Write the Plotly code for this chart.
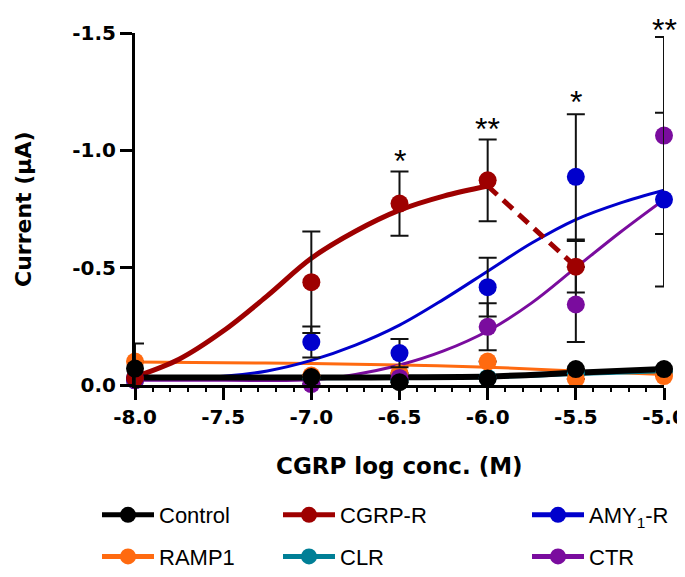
import plotly.graph_objects as go

# ---------------- data ----------------
conc = [-8.0, -7.0, -6.5, -6.0, -5.5, -5.0]

control_y   = [0.070, 0.034, 0.012, 0.028, 0.068, 0.068]
control_err = [0.107, 0.0, 0.0, 0.0, 0.0, 0.0]
ramp1_y     = [0.100, 0.040, 0.050, 0.100, 0.026, 0.038]
ramp1_err   = [0.0, 0.0, 0.0, 0.0, 0.0, 0.0]
clr_y       = [0.020, 0.030, 0.020, 0.030, 0.050, 0.055]
clr_err     = [0.0, 0.0, 0.0, 0.0, 0.0, 0.0]
cgrp_y      = [0.030, 0.438, 0.773, 0.872, 0.504]
cgrp_err    = [0.0, 0.216, 0.137, 0.174, 0.110]
amy_y       = [0.030, 0.183, 0.136, 0.417, 0.887, 0.790]
amy_err     = [0.0, 0.066, 0.060, 0.125, 0.267, 0.370]
ctr_y       = [0.020, 0.004, 0.030, 0.248, 0.343, 1.063]
ctr_err     = [0.0, 0.0, 0.0, 0.100, 0.160, 0.420]

# fitted curves
control_fit_x = [-8.0, -7.0, -6.5, -6.0, -5.5, -5.0]
control_fit_y = [0.032, 0.032, 0.033, 0.036, 0.052, 0.068]
ramp1_fit_x = [-8.0, -7.5, -7.0, -6.5, -6.0, -5.5, -5.0]
ramp1_fit_y = [0.098, 0.095, 0.092, 0.085, 0.076, 0.060, 0.045]
clr_fit_x = [-8.0, -7.0, -6.0, -5.5, -5.0]
clr_fit_y = [0.025, 0.027, 0.032, 0.045, 0.056]
cgrp_fit_x = [-8.0, -7.75, -7.5, -7.25, -7.0, -6.75, -6.5, -6.25, -6.0]
cgrp_fit_y = [0.035, 0.110, 0.230, 0.380, 0.540, 0.655, 0.745, 0.805, 0.848]
cgrp_dash_x = [-6.0, -5.5]
cgrp_dash_y = [0.848, 0.504]
amy_fit_x = [-8.0, -7.5, -7.25, -7.0, -6.75, -6.5, -6.25, -6.0, -5.75, -5.5, -5.25, -5.0]
amy_fit_y = [0.030, 0.037, 0.060, 0.105, 0.170, 0.255, 0.365, 0.485, 0.605, 0.705, 0.775, 0.830]
ctr_fit_x = [-8.0, -7.5, -7.0, -6.75, -6.5, -6.25, -6.0, -5.75, -5.5, -5.25, -5.0]
ctr_fit_y = [0.020, 0.020, 0.022, 0.045, 0.085, 0.145, 0.230, 0.350, 0.500, 0.650, 0.790]

# significance marks (height in µA of the top of each mark)
star_x = [-6.5, -6.0, -5.5, -5.0]
star_top = [1.04, 1.175, 1.29, 1.60]
star_text = ["*", "**", "*", "**"]

x_ticks = [-8.0, -7.5, -7.0, -6.5, -6.0, -5.5, -5.0]
x_ticktext = ["-8.0", "-7.5", "-7.0", "-6.5", "-6.0", "-5.5", "-5.0"]
y_ticks = [0.0, -0.5, -1.0, -1.5]
y_ticktext = ["0.0", "-0.5", "-1.0", "-1.5"]
y_range = [0.0, -1.5]

# ---------------- styles ----------------
C_CONTROL = "#000000"
C_CGRP = "#9E0000"
C_AMY = "#0000CC"
C_RAMP1 = "#FF6A10"
C_CLR = "#007F96"
C_CTR = "#7A0C9E"

BOLD = "DejaVu Sans"
REG = "Liberation Sans"

def neg(v):
    return [-a for a in v]

fig = go.Figure()

def fit_line(xs, ys, color, width, dash="solid", shape="spline"):
    fig.add_trace(go.Scatter(x=xs, y=neg(ys), mode="lines", showlegend=False,
                             line=dict(color=color, width=width, dash=dash, shape=shape),
                             hoverinfo="skip", cliponaxis=False))

def points(xs, ys, errs, color):
    fig.add_trace(go.Scatter(x=xs, y=neg(ys), mode="markers", showlegend=False,
                             marker=dict(color=color, size=18),
                             error_y=dict(type="data", array=errs, visible=True,
                                          color="#111111", thickness=2, width=9),
                             cliponaxis=False))

# lines
fit_line(ramp1_fit_x, ramp1_fit_y, C_RAMP1, 3)
fit_line(clr_fit_x, clr_fit_y, C_CLR, 3)
fit_line(ctr_fit_x, ctr_fit_y, C_CTR, 3)
fit_line(amy_fit_x, amy_fit_y, C_AMY, 3)
fit_line(cgrp_fit_x, cgrp_fit_y, C_CGRP, 5)
fit_line(cgrp_dash_x, cgrp_dash_y, C_CGRP, 5, dash="13px,8px", shape="linear")
fit_line(control_fit_x, control_fit_y, C_CONTROL, 6)

# points
points(conc, clr_y, clr_err, C_CLR)
points(conc, ramp1_y, ramp1_err, C_RAMP1)
points(conc, ctr_y, ctr_err, C_CTR)
points(conc, amy_y, amy_err, C_AMY)
points(conc[:5], cgrp_y, cgrp_err, C_CGRP)
points(conc, control_y, control_err, C_CONTROL)

# legend-only traces
leg_specs = [
    ("Control", C_CONTROL, "legend"),
    ("RAMP1", C_RAMP1, "legend"),
    ("CGRP-R", C_CGRP, "legend2"),
    ("CLR", C_CLR, "legend2"),
    ("AMY<sub>1</sub>-R", C_AMY, "legend3"),
    ("CTR", C_CTR, "legend3"),
]
for i, (nm, col, lg) in enumerate(leg_specs):
    fig.add_trace(go.Scatter(x=[None], y=[None], mode="lines+markers", name=nm,
                             legend=lg, legendgroup="g%d" % i,
                             line=dict(color=col, width=5),
                             marker=dict(color=col, size=16)))

# plot area geometry (pixels)
W, H = 685, 577
L, R, T, B = 127, 29, 25, 200
pw, ph = W - L - R, H - T - B

def px_x(px):
    return (px - L) / pw

def px_y(py):
    return (H - B - py) / ph

leg_common = dict(orientation="v", xanchor="left", yanchor="top",
                  font=dict(family=REG, size=22, color="#000000"),
                  itemwidth=52, tracegroupgap=10, bgcolor="rgba(0,0,0,0)",
                  traceorder="grouped")

annotations = []
for s_x, s_t, s_top in zip(star_x, star_text, star_top):
    frac = (-s_top - y_range[0]) / (y_range[1] - y_range[0])
    frac = min(frac, px_y(0))
    annotations.append(dict(x=s_x, y=frac, xref="x", yref="paper", text=s_t,
                            showarrow=False, yanchor="top", xanchor="center",
                            font=dict(family=REG, size=32, color="#000000")))
annotations.append(dict(x=px_x(391), y=px_y(458), xref="paper", yref="paper",
                        text="CGRP log conc. (M)", showarrow=False,
                        xanchor="center", yanchor="middle",
                        font=dict(family=BOLD, size=23, color="#000000", weight="bold")))
annotations.append(dict(x=px_x(15), y=px_y(201), xref="paper", yref="paper",
                        text="Current (μA)", showarrow=False, textangle=-90,
                        xanchor="center", yanchor="middle",
                        font=dict(family=BOLD, size=22, color="#000000", weight="bold")))

axis_common = dict(showgrid=False, zeroline=False, showline=True, linecolor="#000000",
                   linewidth=3, ticks="outside", ticklen=12, tickwidth=3,
                   tickcolor="#000000",
                   tickfont=dict(family=BOLD, size=20, color="#000000", weight="bold"))

fig.update_layout(
    width=W, height=H,
    margin=dict(l=L, r=R, t=T, b=B, autoexpand=False),
    paper_bgcolor="#FFFFFF", plot_bgcolor="#FFFFFF",
    showlegend=True,
    xaxis=dict(range=[-8, -5], tickvals=x_ticks, ticktext=x_ticktext,
               minor=dict(dtick=0.1, ticks="outside", ticklen=4, tickwidth=1.5,
                          tickcolor="#000000"),
               **axis_common),
    yaxis=dict(range=y_range, tickvals=y_ticks, ticktext=y_ticktext, **axis_common),
    legend=dict(x=px_x(89), y=px_y(486), **leg_common),
    legend2=dict(x=px_x(270), y=px_y(486), **leg_common),
    legend3=dict(x=px_x(519), y=px_y(486), **leg_common),
    annotations=annotations,
)

fig.write_html("out.html")
